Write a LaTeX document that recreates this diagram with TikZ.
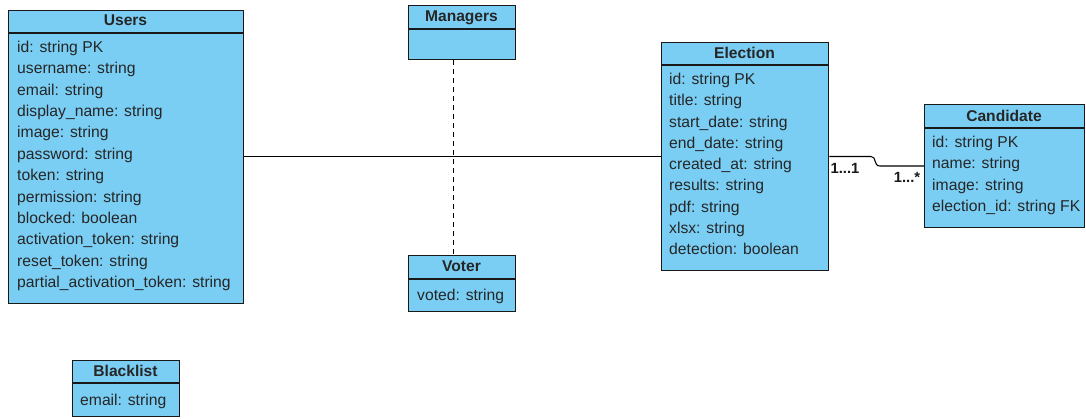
\documentclass[tikz,border=0pt]{standalone}
\usepackage{fontspec}
\setmainfont{Liberation Sans}
\begin{document}
\begin{tikzpicture}[x=1pt,y=-1pt,
  box/.style={draw=black!90, line width=1.3pt, fill=clsfill, inner sep=0pt, anchor=north west},
  divider/.style={draw=black!90, line width=1.3pt},
  head/.style={font=\fontsize{15.6}{18}\selectfont\bfseries, text=black!85, inner sep=0pt, anchor=base},
  attr/.style={font=\fontsize{15.7}{18}\selectfont, text=black!85, inner sep=0pt, anchor=base west},
  mult/.style={font=\fontsize{14.8}{18}\selectfont\bfseries, text=black!90, inner sep=0pt, anchor=base},
  link/.style={draw=black, line width=1.1pt},
  dep/.style={draw=black, line width=0.9pt, dash pattern=on 5pt off 4pt}]
\definecolor{clsfill}{RGB}{122,206,244}
\useasboundingbox (0,0) rectangle (1086,418);

% Users
\node[box, minimum width=235pt, minimum height=293pt] (users) at (8,10) {};
\draw[divider] (8,33) -- (243,33);
\node[head] (users-h) at (125.5,25.5) {Users};
\foreach \t [count=\i] in {id: string PK, username: string, email: string,
  display\_name: string, image: string, password: string, token: string,
  permission: string, blocked: boolean, activation\_token: string,
  reset\_token: string, partial\_activation\_token: string}
  \node[attr] (users-\i) at (17,{52.5+(\i-1)*21.36}) {\t};

% Managers
\node[box, minimum width=107pt, minimum height=54pt] (managers) at (408,5) {};
\draw[divider] (408,29) -- (515,29);
\node[head] (managers-h) at (461.5,21.5) {Managers};

% Voter
\node[box, minimum width=107pt, minimum height=56pt] (voter) at (408,255) {};
\draw[divider] (408,279) -- (515,279);
\node[head] (voter-h) at (461.5,271.5) {Voter};
\node[attr] (voter-1) at (417,300.5) {voted: string};

% Election
\node[box, minimum width=167pt, minimum height=228pt] (election) at (661,42) {};
\draw[divider] (661,65) -- (828,65);
\node[head] (election-h) at (744.5,58.5) {Election};
\foreach \t [count=\i] in {id: string PK, title: string, start\_date: string,
  end\_date: string, created\_at: string, results: string, pdf: string,
  xlsx: string, detection: boolean}
  \node[attr] (election-\i) at (669,{84.5+(\i-1)*21.25}) {\t};

% Candidate
\node[box, minimum width=160pt, minimum height=123pt] (candidate) at (924,104) {};
\draw[divider] (924,128) -- (1084,128);
\node[head] (candidate-h) at (1004,121.5) {Candidate};
\foreach \t [count=\i] in {id: string PK, name: string, image: string,
  election\_id: string FK}
  \node[attr] (candidate-\i) at (932,{147.5+(\i-1)*21.3}) {\t};

% Blacklist
\node[box, minimum width=107pt, minimum height=56pt] (blacklist) at (72,360) {};
\draw[divider] (72,383) -- (179,383);
\node[head] (blacklist-h) at (125.5,376.5) {Blacklist};
\node[attr] (blacklist-1) at (80,405.5) {email: string};

% Associations
\draw[link] (users.east |- 0,156.5) -- (election.west |- 0,156.5);
\draw[dep] (managers.south -| 453,0) -- (voter.north -| 453,0);
\coordinate (bend) at (871,156.5);
\draw[link] (election.east |- bend) -- (bend)
  .. controls (877,156.5) and (873,166) .. (880,166)
  -- (candidate.west |- 0,166);
\node[mult] (m-election) at (845,173) {1...1};
\node[mult] (m-candidate) at (907,182) {1...*};
\end{tikzpicture}
\end{document}
